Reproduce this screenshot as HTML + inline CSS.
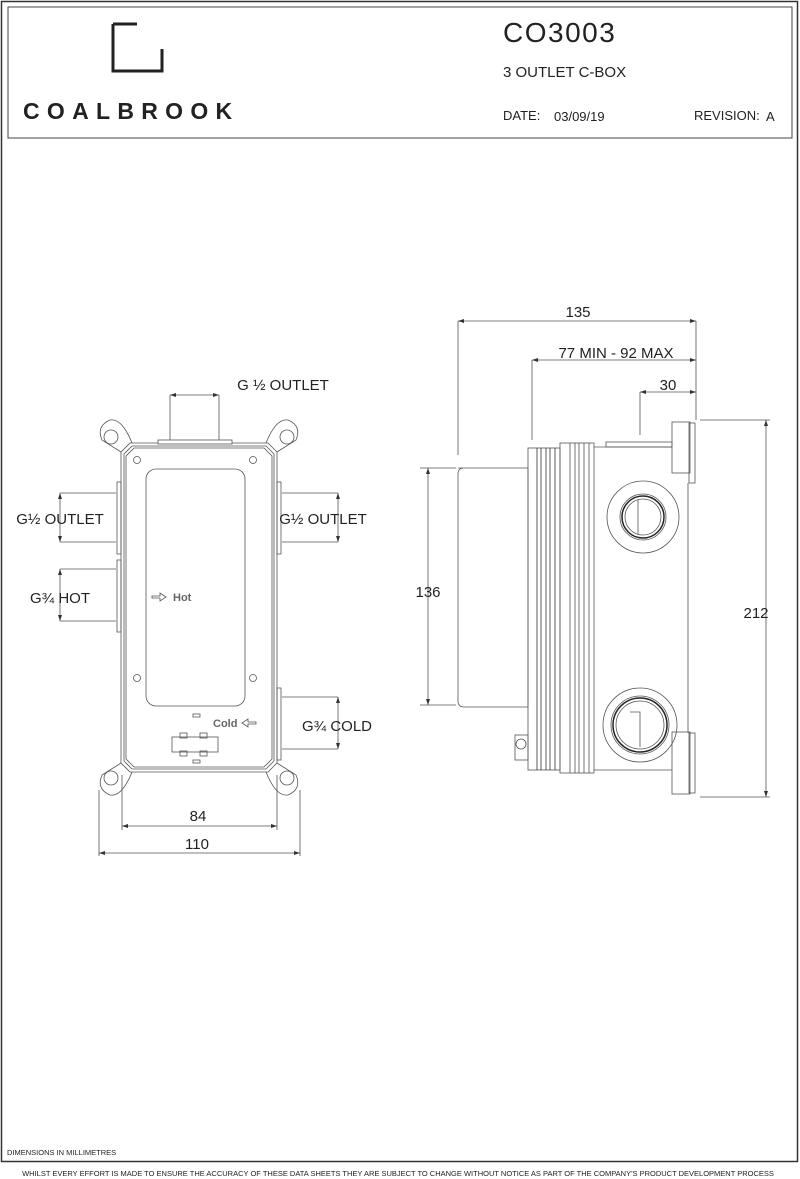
<!DOCTYPE html>
<html><head><meta charset="utf-8"><style>
html,body{margin:0;padding:0;background:#fff;}
svg{display:block;font-family:"Liberation Sans",sans-serif;}
</style></head><body>
<svg width="800" height="1179" viewBox="0 0 800 1179" xmlns="http://www.w3.org/2000/svg">
<rect x="1.5" y="1.5" width="796" height="1160" fill="none" stroke="#333" stroke-width="1.5"/>
<rect x="8" y="7" width="784" height="131" fill="none" stroke="#444" stroke-width="1"/>
<path d="M113 24 V71 H162 V49" fill="none" stroke="#222" stroke-width="3"/>
<path d="M113 24 H137" fill="none" stroke="#222" stroke-width="3"/>
<text x="23" y="119" font-size="23" letter-spacing="7.3" fill="#222" font-weight="bold">COALBROOK</text>
<text x="503" y="42" font-size="28" letter-spacing="1.5" fill="#222">CO3003</text>
<text x="503" y="77" font-size="15" fill="#222">3 OUTLET C-BOX</text>
<text x="503" y="120" font-size="13" fill="#222">DATE:</text>
<text x="554" y="121" font-size="13" fill="#222">03/09/19</text>
<text x="694" y="120" font-size="13" fill="#222">REVISION:</text>
<text x="766" y="121" font-size="13" fill="#222">A</text>

<g fill="none" stroke="#555" stroke-width="0.8">
<path d="M121 452 L102 440 Q96 426 110 420 Q122 418 132 443 Z"/>
<circle cx="111" cy="437" r="7"/>
<path d="M277 452 L296 440 Q302 426 288 420 Q276 418 266 443 Z"/>
<circle cx="287" cy="437" r="7"/>
<path d="M121 763 L102 775 Q96 789 110 795 Q122 797 132 772 Z"/>
<circle cx="111" cy="778" r="7"/>
<path d="M277 763 L296 775 Q302 789 288 795 Q276 797 266 772 Z"/>
<circle cx="287" cy="778" r="7"/>
<path d="M130 443 H268 L277 452 V763 L268 772 H130 L121 763 V452 Z" fill="#fff"/>
<path d="M132 446 H266 L274 454 V761 L266 769 H132 L124 761 V454 Z"/>
<path d="M134 448 H264 L272 456 V759 L264 767 H134 L126 759 V456 Z"/>
<rect x="158" y="440" width="74" height="4" fill="#fff"/>
<rect x="146" y="469" width="99" height="237" rx="10"/>
<circle cx="137" cy="460" r="3.5"/><circle cx="253" cy="460" r="3.5"/>
<circle cx="137" cy="678" r="3.5"/><circle cx="253" cy="678" r="3.5"/>
<rect x="117" y="482" width="4" height="72"/><rect x="117" y="560" width="4" height="72"/>
<rect x="277" y="482" width="4" height="72"/><rect x="277" y="688" width="4" height="72"/>
<rect x="193" y="714" width="7" height="3"/><rect x="193" y="760" width="7" height="3"/>
<rect x="172" y="737" width="46" height="15"/>
<rect x="180" y="733" width="7" height="5"/><rect x="200" y="733" width="7" height="5"/>
<rect x="180" y="751" width="7" height="5"/><rect x="200" y="751" width="7" height="5"/>
<path d="M152 596 H160 V593 L166 597 L160 601 V598 H152 Z"/>
<path d="M256 722 H248 V719 L242 723 L248 727 V724 H256 Z"/>
<path d="M170 395 V440 M219 395 V440 M170 395 H219"/>
<path d="M60 493 H116 M60 542 H116 M60 493 V542"/>
<path d="M60 569 H116 M60 621 H116 M60 569 V621"/>
<path d="M282 493 H338 M282 542 H338 M338 493 V542"/>
<path d="M282 697 H338 M282 749 H338 M338 697 V749"/>
<path d="M122 775 V830 M277 775 V830 M122 826 H277"/>
<path d="M99 790 V856 M300 790 V856 M99 853 H300"/>
<path d="M458 468 H528 V707 H464 Q458 707 458 701 V474 Q458 468 464 468 Z"/>
<rect x="528" y="448" width="32" height="322"/>
<path d="M537 448 V770 M541 448 V770 M546 448 V770 M550 448 V770 M555 448 V770" stroke="#333"/>
<rect x="560" y="443" width="34" height="330"/>
<path d="M570 443 V773 M575 443 V773 M579 443 V773 M584 443 V773 M589 443 V773"/>
<path d="M594 447 H672 M594 770 H672 M688 483 V733" />
<rect x="606" y="442" width="66" height="5"/>
<rect x="672" y="422" width="18" height="51"/><rect x="689" y="423" width="6" height="60"/>
<rect x="672" y="732" width="18" height="62"/><rect x="689" y="733" width="6" height="60"/>
<rect x="515" y="735" width="13" height="25"/>
<circle cx="521" cy="744" r="5"/>
<circle cx="643" cy="517" r="36"/>
<circle cx="643" cy="517" r="23"/><circle cx="643" cy="517" r="21" stroke-width="1.5" stroke="#222"/><circle cx="643" cy="517" r="18"/>
<path d="M638 500 V534"/>
<circle cx="640" cy="725" r="37"/>
<circle cx="640" cy="725" r="29"/><circle cx="640" cy="725" r="27" stroke-width="1.5" stroke="#222"/><circle cx="640" cy="725" r="24"/>
<path d="M630 712 H640 V747"/>
<path d="M458 321 H696 M458 321 V455 M696 321 V420"/>
<path d="M532 360 H696 M532 360 V440"/>
<path d="M640 392 H696 M640 392 V435"/>
<path d="M420 468 H456 M420 705 H456 M428 468 V705"/>
<path d="M700 420 H770 M700 797 H770 M766 420 V797"/>
</g>
<g fill="#333">
<path d="M170 395 l6 -2 v4 z M219 395 l-6 -2 v4 z"/>
<path d="M60 493 l-2 6 h4 z M60 542 l-2 -6 h4 z M60 569 l-2 6 h4 z M60 621 l-2 -6 h4 z"/>
<path d="M338 493 l-2 6 h4 z M338 542 l-2 -6 h4 z M338 697 l-2 6 h4 z M338 749 l-2 -6 h4 z"/>
<path d="M122 826 l6 -2 v4 z M277 826 l-6 -2 v4 z M99 853 l6 -2 v4 z M300 853 l-6 -2 v4 z"/>
<path d="M458 321 l6 -2 v4 z M696 321 l-6 -2 v4 z M532 360 l6 -2 v4 z M696 360 l-6 -2 v4 z M640 392 l6 -2 v4 z M696 392 l-6 -2 v4 z"/>
<path d="M428 468 l-2 6 h4 z M428 705 l-2 -6 h4 z M766 420 l-2 6 h4 z M766 797 l-2 -6 h4 z"/>
</g>
<g font-size="15" fill="#222" text-anchor="middle">
<text x="283" y="390">G ½ OUTLET</text>
<text x="60" y="524">G½ OUTLET</text>
<text x="60" y="603">G¾ HOT</text>
<text x="323" y="524">G½ OUTLET</text>
<text x="337" y="731">G¾ COLD</text>
<text x="198" y="821">84</text>
<text x="197" y="849">110</text>
<text x="578" y="317">135</text>
<text x="616" y="358">77 MIN - 92 MAX</text>
<text x="668" y="390">30</text>
<text x="428" y="597">136</text>
<text x="756" y="618">212</text>
</g>
<text x="173" y="601" font-size="11" font-weight="bold" fill="#666">Hot</text>
<text x="213" y="727" font-size="11" font-weight="bold" fill="#666">Cold</text>
<text x="7" y="1155" font-size="7.5" fill="#222">DIMENSIONS IN  MILLIMETRES</text>
<text x="398" y="1176" font-size="7.5" fill="#222" text-anchor="middle">WHILST EVERY EFFORT IS MADE TO ENSURE THE ACCURACY OF THESE DATA SHEETS THEY ARE SUBJECT TO CHANGE WITHOUT NOTICE AS PART OF THE COMPANY'S PRODUCT DEVELOPMENT PROCESS</text>
</svg>
</body></html>
